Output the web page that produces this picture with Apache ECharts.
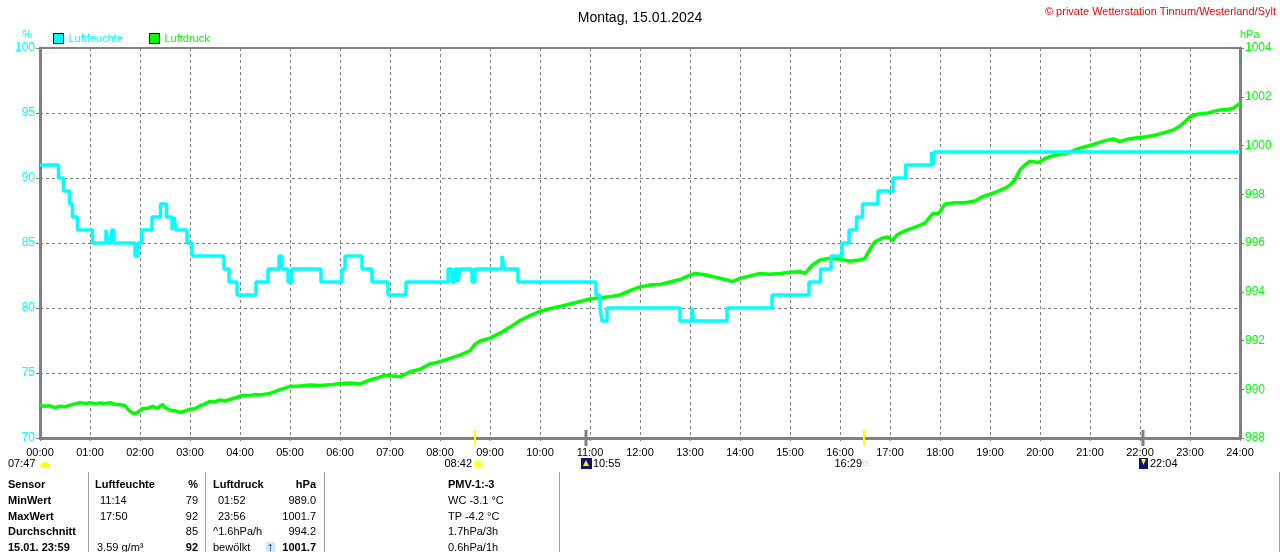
<!DOCTYPE html>
<html>
<head>
<meta charset="utf-8">
<script src="https://cdn.jsdelivr.net/npm/echarts@6.0.0/dist/echarts.min.js"></script>
<style>
html,body{margin:0;padding:0;background:#fff;}
#main{width:1280px;height:552px;}
</style>
</head>
<body>
<div id="main"></div>
<script>
var FONT = '"Liberation Sans", Arial, sans-serif';

var hourLabels = ['00:00','01:00','02:00','03:00','04:00','05:00','06:00','07:00','08:00','09:00','10:00','11:00','12:00',
	'13:00','14:00','15:00','16:00','17:00','18:00','19:00','20:00','21:00','22:00','23:00','24:00'];

// Luftfeuchte (%), Stufen: Zeit in Stunden
var humTime = [0, 0.37, 0.47, 0.59, 0.65, 0.75, 1.05, 1.32, 1.36, 1.43, 1.48, 1.90, 1.96, 2.03, 2.24, 2.41, 2.53, 2.64, 2.68, 2.72,
	2.94, 3.04, 3.68, 3.78, 3.94, 4.32, 4.56, 4.78, 4.84, 4.96, 5.04, 5.62, 6.04, 6.10, 6.44, 6.64, 6.96, 7.32, 8.16, 8.24,
	8.30, 8.36, 8.40, 8.64, 8.70, 9.24, 9.28, 9.56, 11.12, 11.20, 11.24, 11.34, 12.80, 13.04, 13.08, 13.74, 14.64, 15.38, 15.61, 15.82,
	16.04, 16.18, 16.33, 16.45, 16.76, 17.06, 17.31, 17.83, 17.86, 17.88, 24];
var humVal = [91, 90, 89, 88, 87, 86, 85, 86, 85, 86, 85, 84, 85, 86, 87, 88, 87, 86, 87, 86,
	85, 84, 83, 82, 81, 82, 83, 84, 83, 82, 83, 82, 83, 84, 83, 82, 81, 82, 83, 82,
	83, 82, 83, 82, 83, 84, 83, 82, 81, 80, 79, 80, 79, 80, 79, 80, 81, 82, 83, 84,
	85, 86, 87, 88, 89, 90, 91, 92, 91, 92, 92];

// Luftdruck (hPa)
var presTime = [0, 0.1, 0.2, 0.3, 0.4, 0.5, 0.6, 0.7, 0.8, 0.9, 1.0, 1.1, 1.2, 1.3, 1.4, 1.5, 1.6, 1.7, 1.75, 1.8,
	1.87, 1.95, 2.05, 2.15, 2.25, 2.35, 2.45, 2.5, 2.6, 2.7, 2.8, 2.9, 3.0, 3.1, 3.2, 3.3, 3.4, 3.5, 3.6, 3.7,
	3.8, 3.9, 4.0, 4.1, 4.2, 4.3, 4.4, 4.5, 4.6, 4.7, 4.8, 4.9, 5.0, 5.2, 5.4, 5.6, 5.8, 6.0, 6.2, 6.4,
	6.6, 6.8, 6.9, 7.0, 7.2, 7.4, 7.6, 7.8, 8.0, 8.2, 8.4, 8.6, 8.7, 8.8, 9.0, 9.2, 9.4, 9.6, 9.8, 10.0,
	10.2, 10.4, 10.6, 10.8, 11.0, 11.2, 11.4, 11.6, 11.8, 12.0, 12.2, 12.4, 12.6, 12.8, 13.0, 13.1, 13.3, 13.5, 13.7, 13.85,
	14.0, 14.2, 14.4, 14.6, 14.8, 15.0, 15.2, 15.3, 15.45, 15.6, 15.8, 16.0, 16.2, 16.4, 16.5, 16.6, 16.7, 16.85, 16.95, 17.05,
	17.15, 17.3, 17.5, 17.7, 17.85, 17.97, 18.1, 18.3, 18.5, 18.7, 18.85, 19.0, 19.13, 19.3, 19.4, 19.5, 19.6, 19.7, 19.8, 19.97,
	20.13, 20.3, 20.53, 20.8, 21.0, 21.13, 21.3, 21.47, 21.6, 21.75, 21.87, 22.13, 22.3, 22.47, 22.67, 22.8, 22.9, 23.0, 23.13, 23.33,
	23.47, 23.6, 23.75, 23.87, 23.97, 24.0];
var presVal = [989.35, 989.3, 989.32, 989.25, 989.3, 989.28, 989.35, 989.4, 989.45, 989.42, 989.45, 989.4, 989.44, 989.42, 989.45, 989.38, 989.36, 989.33, 989.2, 989.1,
	989.0, 989.05, 989.2, 989.22, 989.3, 989.22, 989.38, 989.25, 989.15, 989.12, 989.05, 989.1, 989.18, 989.2, 989.32, 989.4, 989.5, 989.48, 989.56, 989.52,
	989.58, 989.64, 989.72, 989.75, 989.74, 989.78, 989.76, 989.8, 989.83, 989.9, 989.98, 990.05, 990.12, 990.13, 990.17, 990.15, 990.18, 990.24, 990.26, 990.22,
	990.38, 990.5, 990.58, 990.55, 990.51, 990.72, 990.82, 991.04, 991.13, 991.27, 991.4, 991.58, 991.85, 991.98, 992.1, 992.3, 992.55, 992.82, 993.02, 993.2,
	993.3, 993.4, 993.5, 993.6, 993.7, 993.75, 993.8, 993.87, 994.05, 994.2, 994.28, 994.3, 994.4, 994.5, 994.68, 994.75, 994.7, 994.6, 994.5, 994.42,
	994.55, 994.65, 994.75, 994.72, 994.75, 994.8, 994.82, 994.75, 995.1, 995.3, 995.38, 995.33, 995.25, 995.3, 995.37, 995.75, 996.05, 996.2, 996.25, 996.1,
	996.35, 996.5, 996.65, 996.82, 997.2, 997.2, 997.6, 997.65, 997.65, 997.72, 997.9, 998.0, 998.1, 998.25, 998.38, 998.6, 999.0, 999.2, 999.36, 999.3,
	999.5, 999.6, 999.68, 999.89, 1000.0, 1000.09, 1000.2, 1000.27, 1000.16, 1000.26, 1000.3, 1000.36, 1000.42, 1000.52, 1000.64, 1000.8, 1000.98, 1001.18, 1001.28, 1001.32,
	1001.4, 1001.46, 1001.48, 1001.53, 1001.69, 1001.74];

// Sonne / Mond
var eventTime = [8.7, 10.917, 16.483, 22.067];
var eventKind = ['sun', 'moon', 'sun', 'moon'];

var tableRows = [
	['Sensor', 'Luftfeuchte', '%', 'Luftdruck', 'hPa', 'PMV-1:-3'],
	['MinWert', '11:14', '79', '01:52', '989.0', 'WC -3.1 °C'],
	['MaxWert', '17:50', '92', '23:56', '1001.7', 'TP -4.2 °C'],
	['Durchschnitt', '', '85', '^1.6hPa/h', '994.2', '1.7hPa/3h'],
	['15.01. 23:59', '3.59 g/m³', '92', 'bewölkt', '1001.7', '0.6hPa/1h']
];

function zip(a, b) {
	var out = [];
	for(var i = 0; i < a.length; i++) {
		out.push([a[i], b[i]]);
	}
	return out;
}

var myChart = echarts.init(document.getElementById('main'));

var option = {
	animation: false,
	backgroundColor: '#fff',
	textStyle: { fontFamily: FONT },
	title: {
		text: 'Montag, 15.01.2024',
		left: 'center',
		top: 6,
		textStyle: { fontSize: 14, fontWeight: 'normal', color: '#000', fontFamily: FONT }
	},
	legend: {
		left: 48,
		top: 28,
		icon: 'rect',
		itemWidth: 10,
		itemHeight: 10,
		itemGap: 26,
		itemStyle: { borderColor: '#000', borderWidth: 1 },
		textStyle: { fontSize: 11, fontFamily: FONT },
		data: [
			{ name: 'Luftfeuchte', textStyle: { color: '#00ffff' } },
			{ name: 'Luftdruck', textStyle: { color: '#00ff00' } }
		]
	},
	grid: {
		left: 40,
		right: 40,
		top: 48,
		bottom: 114,
		show: true,
		borderColor: '#808080',
		borderWidth: 2
	},
	xAxis: {
		type: 'value',
		min: 0,
		max: 24,
		interval: 1,
		axisLine: { lineStyle: { color: '#808080', width: 3 } },
		axisTick: { show: true, length: 3, lineStyle: { color: '#808080' } },
		axisLabel: {
			color: '#000',
			fontSize: 11,
			margin: 9,
			formatter: function(v) { return hourLabels[v]; }
		},
		splitLine: { show: true, lineStyle: { color: '#808080', type: [3, 3] } }
	},
	yAxis: [{
		type: 'value',
		min: 70,
		max: 100,
		interval: 5,
		name: '%',
		nameGap: 8,
		nameTextStyle: { color: '#00ffff', fontSize: 11, align: 'right', padding: [0, 8, 0, 0] },
		axisLine: { show: true, lineStyle: { color: '#808080', width: 3 } },
		axisTick: { show: true, length: 4, lineStyle: { color: '#808080' } },
		axisLabel: { color: '#00ffff', fontSize: 12, margin: 5 },
		splitLine: { show: true, lineStyle: { color: '#808080', type: [3, 3] } }
	}, {
		type: 'value',
		min: 988,
		max: 1004,
		interval: 2,
		name: 'hPa',
		nameGap: 8,
		nameTextStyle: { color: '#00ff00', fontSize: 11, align: 'left', padding: [0, 0, 0, 0] },
		position: 'right',
		axisLine: { show: true, lineStyle: { color: '#808080', width: 3 } },
		axisTick: { show: true, length: 4, lineStyle: { color: '#808080' } },
		axisLabel: { color: '#00ff00', fontSize: 12, margin: 5, formatter: function(v) { return String(v); } },
		splitLine: { show: false }
	}],
	series: [{
		name: 'Luftdruck',
		type: 'line',
		yAxisIndex: 1,
		showSymbol: false,
		color: '#00ff00',
		lineStyle: { color: '#00ff00', width: 3.5 },
		data: zip(presTime, presVal),
		z: 2
	}, {
		name: 'Luftfeuchte',
		type: 'line',
		yAxisIndex: 0,
		step: 'end',
		showSymbol: false,
		color: '#00ffff',
		lineStyle: { color: '#00ffff', width: 3.5 },
		data: zip(humTime, humVal),
		z: 3
	}]
};

myChart.setOption(option);

// Markierungen unter der Zeitachse und Tabelle
var gr = [];
var axisY = myChart.convertToPixel({ yAxisIndex: 0 }, 70);
for(var i = 0; i < eventTime.length; i++) {
	var px = Math.round(myChart.convertToPixel({ xAxisIndex: 0 }, eventTime[i]));
	gr.push({
		type: 'line',
		shape: { x1: px, y1: axisY - 8, x2: px, y2: axisY + 8 },
		style: { stroke: eventKind[i] == 'sun' ? '#ffff00' : '#808080', lineWidth: eventKind[i] == 'sun' ? 2 : 3 },
		z: 100
	});
}

function txt(x, y, s, opt) {
	opt = opt || {};
	gr.push({
		type: 'text',
		x: x,
		y: y,
		style: {
			text: s,
			fill: opt.color || '#000',
			font: (opt.bold ? 'bold ' : '') + (opt.size || 11) + 'px ' + FONT,
			textAlign: opt.align || 'left',
			textVerticalAlign: 'middle'
		},
		z: 100
	});
}

// Zeilen mit Dämmerung / Sonne / Mond
txt(8, 464, '07:47');
gr.push({ type: 'sector', shape: { cx: 45, cy: 467, r: 5, startAngle: Math.PI, endAngle: Math.PI * 2 }, style: { fill: '#ffff00' }, z: 100 });
txt(472, 464, '08:42', { align: 'right' });
gr.push({ type: 'circle', shape: { cx: 478, cy: 464, r: 4 }, style: { fill: '#ffff00', stroke: '#ffff99', lineWidth: 2 }, z: 100 });
gr.push({ type: 'rect', shape: { x: 581, y: 458, width: 11, height: 11 }, style: { fill: '#10107a' }, z: 100 });
gr.push({ type: 'polygon', shape: { points: [[586, 460], [589, 466], [583, 466]] }, style: { fill: '#ffff00' }, z: 101 });
txt(593, 464, '10:55');
txt(862, 464, '16:29', { align: 'right' });
gr.push({ type: 'rect', shape: { x: 863.5, y: 461.5, width: 4, height: 4 }, style: { fill: '#fff', stroke: '#ffff00', lineWidth: 1 }, z: 100 });
gr.push({ type: 'rect', shape: { x: 1139, y: 458, width: 9, height: 11 }, style: { fill: '#10107a' }, z: 100 });
gr.push({ type: 'polygon', shape: { points: [[1141, 459], [1146, 459], [1143.5, 465]] }, style: { fill: '#ffff00' }, z: 101 });
txt(1150, 464, '22:04');

// Trennlinien der Tabelle
var seps = [88, 205, 324, 559, 1279];
for(var i = 0; i < seps.length; i++) {
	gr.push({
		type: 'line',
		shape: { x1: seps[i] + 0.5, y1: 472, x2: seps[i] + 0.5, y2: 552 },
		style: { stroke: '#a0a0a0', lineWidth: 1 },
		z: 100
	});
}

var rowY = [485, 501, 517, 532, 548];
for(var r = 0; r < tableRows.length; r++) {
	var row = tableRows[r];
	var head = r == 0;
	var last = r == tableRows.length - 1;
	txt(8, rowY[r], row[0], { bold: true });
	txt(head ? 95 : (last ? 97 : 100), rowY[r], row[1], { bold: head });
	txt(198, rowY[r], row[2], { bold: head || last, align: 'right' });
	txt((r == 1 || r == 2) ? 218 : 213, rowY[r], row[3], { bold: head });
	txt(316, rowY[r], row[4], { bold: head || last, align: 'right' });
	txt(448, rowY[r], row[5], { bold: head });
}
gr.push({ type: 'rect', shape: { x: 266, y: 542, width: 9, height: 11 }, style: { fill: '#cfe8ff' }, z: 99 });
txt(270, 548, '↑', { bold: true, align: 'center', size: 12 });

// Copyright
txt(1276, 12, '© private Wetterstation Tinnum/Westerland/Sylt', { color: '#ff0000', align: 'right' });

myChart.setOption({ graphic: gr });
</script>
</body>
</html>
